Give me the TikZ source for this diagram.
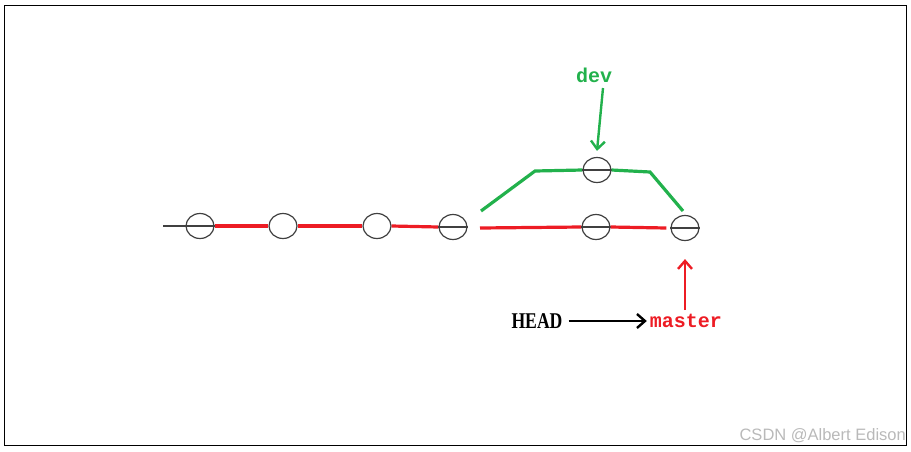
\documentclass[tikz,border=0pt]{standalone}
\usepackage{fontspec}
\setmainfont{Liberation Serif}
\newfontfamily\monof{Liberation Mono}
\newfontfamily\wmf{Liberation Sans}
\usetikzlibrary{shapes.geometric,arrows.meta}
\definecolor{pred}{RGB}{237,28,36}
\definecolor{pgreen}{RGB}{34,177,76}
\definecolor{wm}{RGB}{185,185,185}
\tikzset{
  commit/.style={draw=black!75, line width=1.2pt, ellipse, minimum width=28pt, minimum height=25pt, inner sep=0pt},
  redline/.style={draw=pred, line width=3.2pt},
  greenline/.style={draw=pgreen, line width=3.2pt},
  thinline/.style={draw=black!75, line width=1.1pt},
  ptr/.style={line width=2.4pt, -{Straight Barb[length=8pt,width=14pt,line width=2.4pt]}},
}
\begin{document}
\begin{tikzpicture}[x=1pt,y=-1pt]
\useasboundingbox (0,0) rectangle (911,451);
\draw[line width=1pt] (4.5,5.5) rectangle (906,445.5);
% commits
\node[commit] (c1) at (200,226) {};
\node[commit] (c2) at (283,226) {};
\node[commit] (c3) at (377,226) {};
\node[commit] (c4) at (453,227) {};
\node[commit] (c5) at (596,227) {};
\node[commit] (c6) at (685,228) {};
\node[commit] (d1) at (597,170) {};
\coordinate (s0) at (163,226);
\coordinate (r0) at (480,228);
\coordinate (g0) at (481,211);
\coordinate (g1) at (535,171);
\coordinate (g2) at (650,172);
\coordinate (g3) at (683,211);
% lines
\draw[thinline] (s0) -- (c1.east);
\draw[redline] (c1.east) -- (c2.west);
\draw[redline] (c2.east) -- (c3.west);
\draw[redline] (c3.east) -- (c4.west);
\draw[thinline] (c4.west) -- (c4.east);
\draw[redline] (r0) -- (c5.west);
\draw[thinline] (c5.west) -- (c5.east);
\draw[redline] (c5.east) -- ([xshift=-4pt]c6.west);
\draw[thinline] (c6.west) -- (c6.east);
\draw[greenline, line join=miter] (g0) -- (g1) -- (d1.west);
\draw[thinline] (d1.west) -- (d1.east);
\draw[greenline, line join=miter] (d1.east) -- (g2) -- (g3);
% labels
\node[text=pgreen, font=\monof\bfseries\fontsize{20}{20}\selectfont] (dev) at (594,75) {dev};
\node[font=\fontsize{18}{18}\selectfont\bfseries, inner sep=0pt] (head) at (537,321) {\scalebox{0.98}[1.25]{HEAD}};
\node[text=pred, font=\monof\bfseries\fontsize{20}{20}\selectfont, inner sep=0pt] (master) at (686,321) {master};
\coordinate (devtail) at (603,88);
\coordinate (mtail) at (685,310);
\draw[ptr, draw=pgreen] (devtail) -- ([yshift=6pt]d1.north);
\draw[ptr, draw=pred] (mtail) -- ([yshift=-18pt]c6.south);
\draw[ptr, draw=black] ([xshift=6pt]head.east) -- ([xshift=-3pt]master.west);
\node[text=wm, font=\wmf\fontsize{16.5}{16.5}\selectfont, anchor=east, inner sep=0pt] (wmk) at (906,436) {CSDN @Albert Edison};
\end{tikzpicture}
\end{document}
